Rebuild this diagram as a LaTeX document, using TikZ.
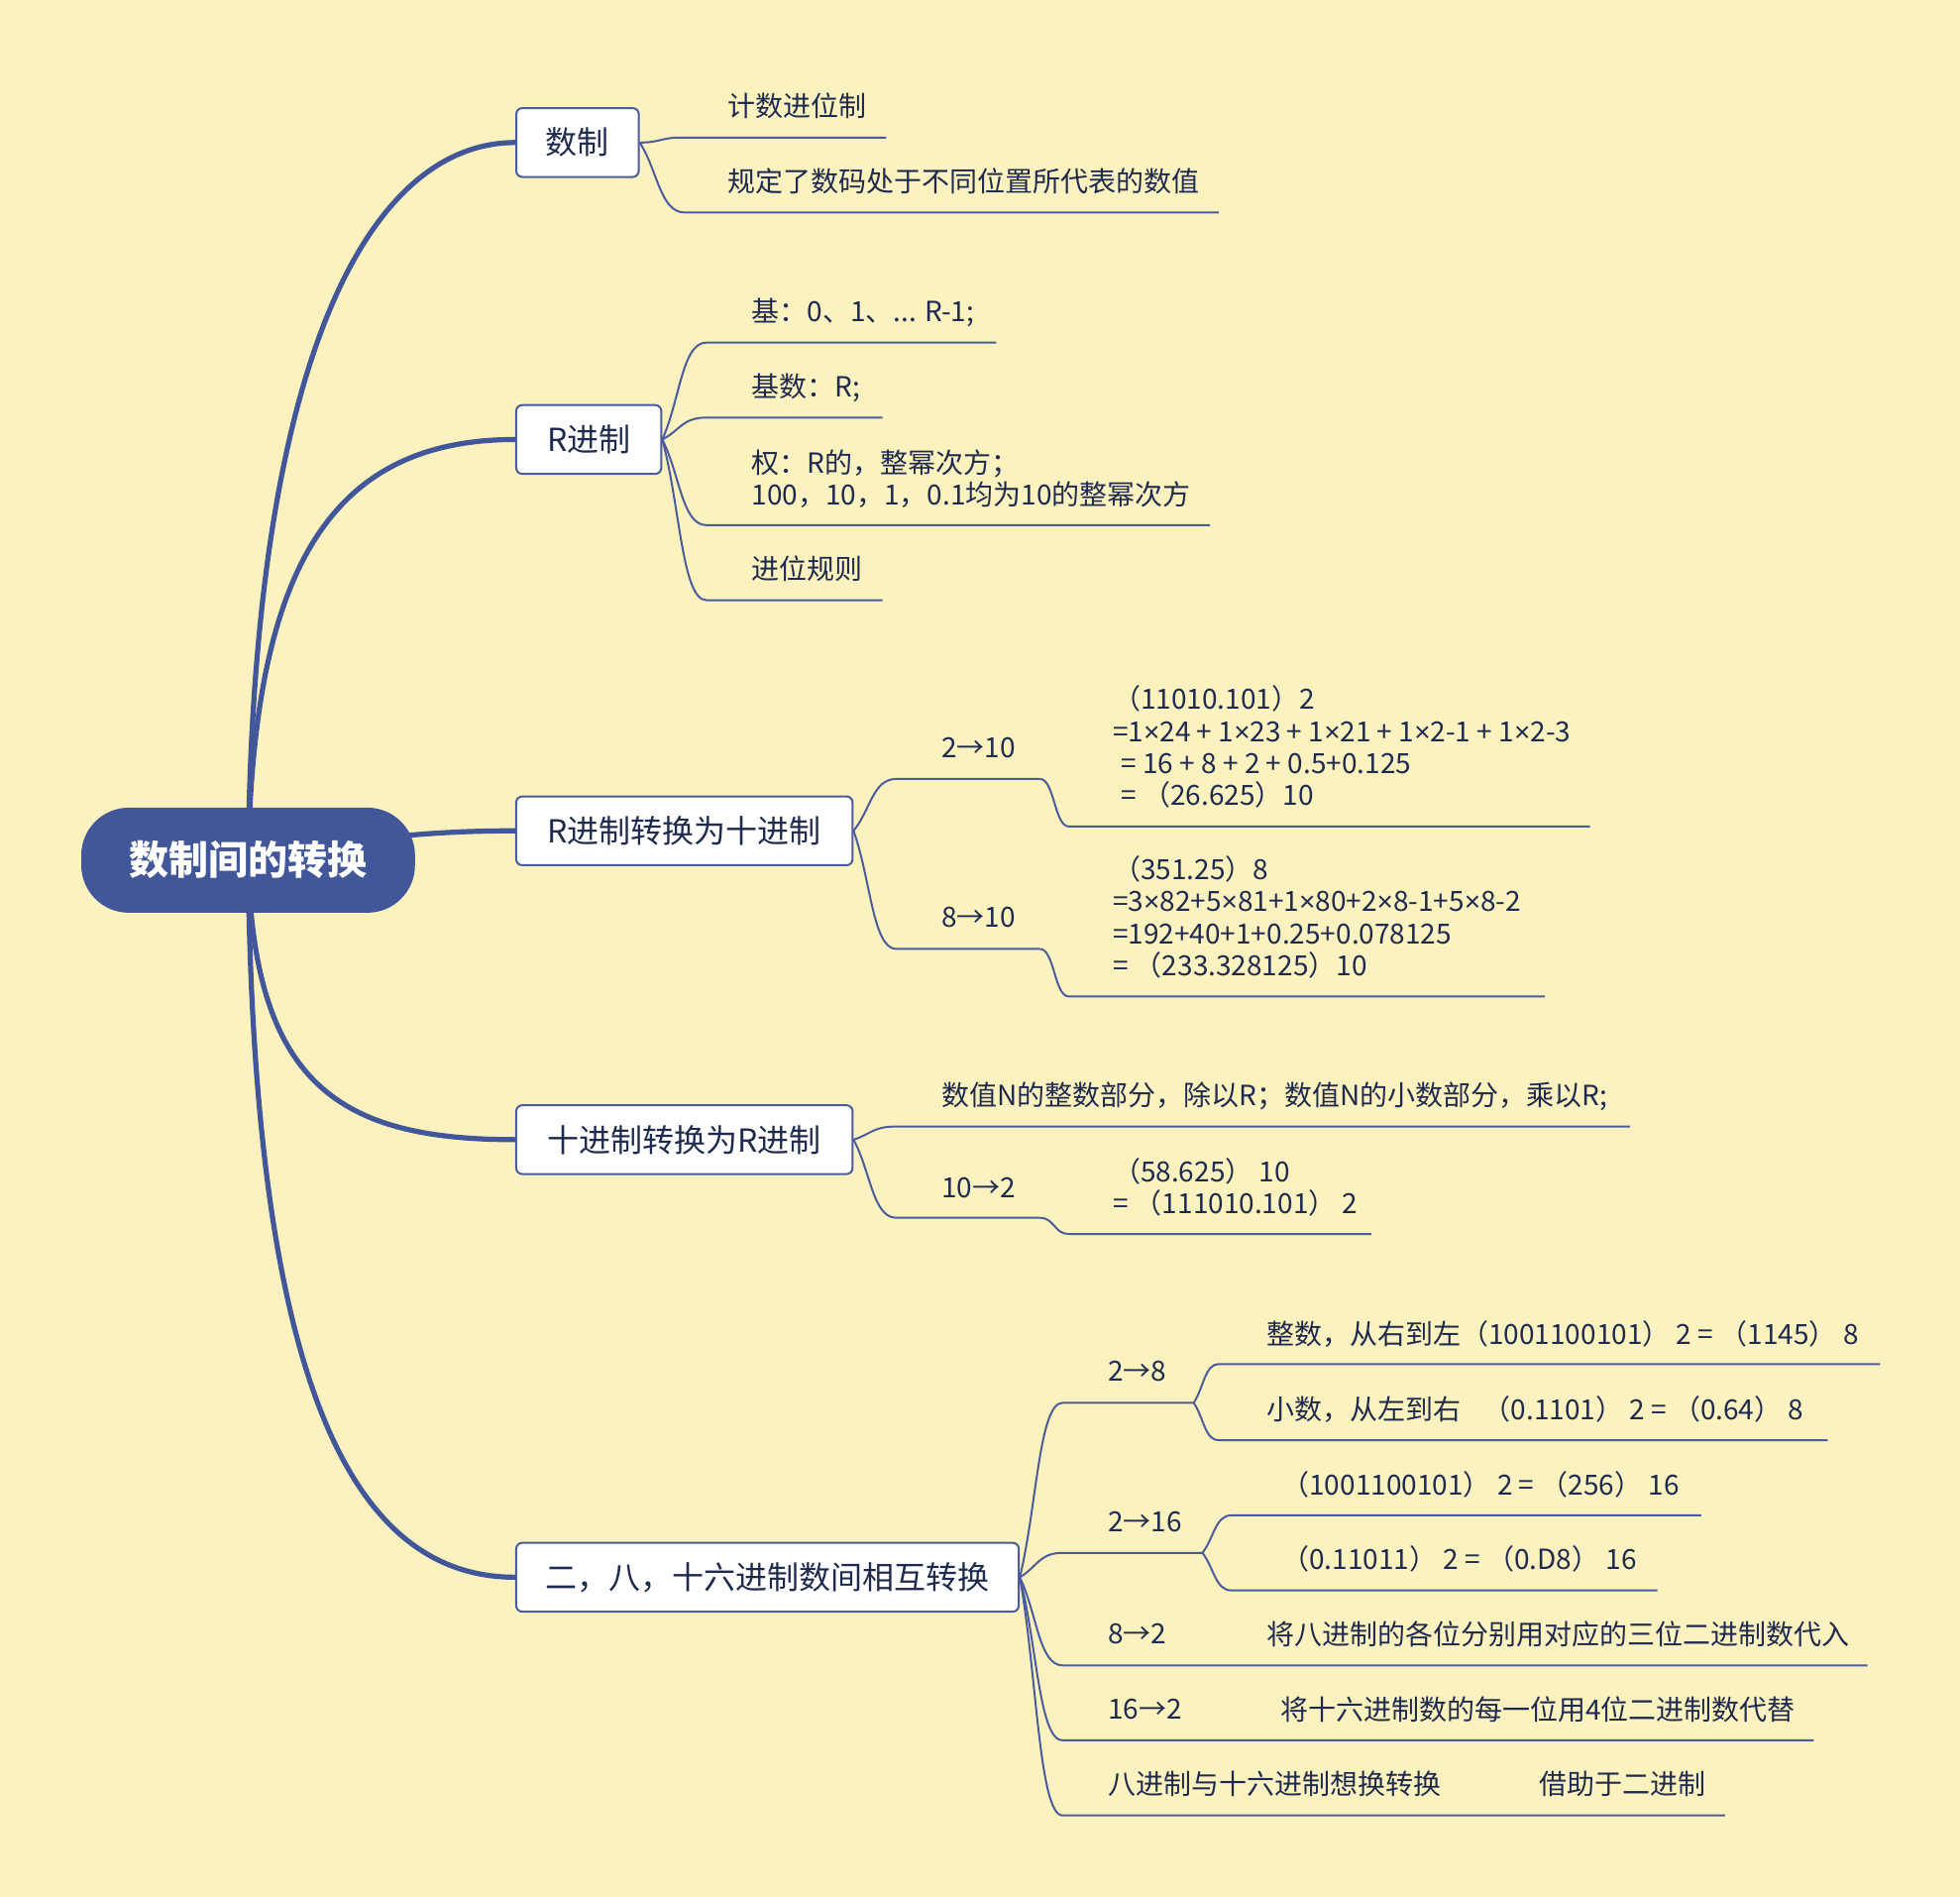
\documentclass[tikz,border=0pt]{standalone}
\usepackage{fontspec}
\newfontfamily\cjk{Noto Sans CJK SC}
\newfontfamily\lat{Liberation Sans}
\newcommand\mul{{\lat ×}}
\usetikzlibrary{calc,backgrounds}
\definecolor{bg}{HTML}{FCF2BF}
\definecolor{mainblue}{HTML}{42579A}
\definecolor{lineblue}{HTML}{4A5C9C}
\definecolor{txt}{HTML}{1E2A4E}
\begin{document}
\begin{tikzpicture}[x=0.63075pt,y=-0.63075pt,
  rootnode/.style={fill=mainblue, rounded corners=24pt, minimum width=168.4pt, minimum height=53pt, inner sep=0pt, text=white, font=\cjk\bfseries\fontsize{20}{24}\selectfont},
  topic/.style={draw=lineblue, line width=1pt, fill=white, rounded corners=3pt, minimum height=34.7pt, inner sep=0pt, text=txt, font=\cjk\fontsize{16}{19}\selectfont},
  lbl/.style={anchor=west, inner sep=0pt, align=left, text=txt, font=\cjk\fontsize{14}{16.2}\selectfont},
  mainline/.style={draw=mainblue, line width=2.6pt, line cap=round},
  thinline/.style={draw=lineblue, line width=1pt},
  fan/.style={to path={.. controls ($(\tikztostart)!0.4!(\tikztotarget)$) and ($(\tikztotarget)!0.55!(\tikztostart |- \tikztotarget)$) .. (\tikztotarget) \tikztonodes}},
  sbr/.style={to path={.. controls ($(\tikztostart)!0.5!(\tikztostart -| \tikztotarget)$) and ($(\tikztotarget)!0.5!(\tikztostart |- \tikztotarget)$) .. (\tikztotarget) \tikztonodes}},
]
% root and topics
\node[rootnode] (root) at (198.5,688) {数制间的转换};
\node[topic, minimum width=61.8pt] (B1) at (462,114) {数制};
\node[topic, minimum width=73.2pt] (B2) at (471,351.5) {R进制};
\node[topic, minimum width=169.7pt] (B3) at (547.5,664.5) {R进制转换为十进制};
\node[topic, minimum width=169.7pt] (B4) at (547.5,911.5) {十进制转换为R进制};
\node[topic, minimum width=253.6pt] (B5) at (614,1261.5) {二，八，十六进制数间相互转换};

\begin{pgfonlayer}{background}
\fill[bg] (0,0) rectangle (1568,1517);
\draw[mainline] (root.center) .. controls +(4,-420) and +(-110,0) .. (B1.west);
\draw[mainline] (root.center) .. controls +(4,-230) and +(-150,0) .. (B2.west);
\draw[mainline] (root.center) .. controls +(100,-22) and +(-40,0) .. (B3.west);
\draw[mainline] (root.center) .. controls +(4,180) and +(-140,0) .. (B4.west);
\draw[mainline] (root.center) .. controls +(4,420) and +(-130,0) .. (B5.west);
\end{pgfonlayer}

% 数制
\node[lbl] (a1) at (582,85) {计数进位制};
\node[lbl] (a2) at (582,145) {规定了数码处于不同位置所代表的数值};
\coordinate (a1s) at (545,110); \coordinate (a1e) at (709,110);
\coordinate (a2s) at (548,170); \coordinate (a2e) at (975,170);
\draw[thinline] (B1.east) to[sbr] (a1s) -- (a1e);
\draw[thinline] (B1.east) to[fan] (a2s) -- (a2e);

% R进制
\node[lbl] (b1) at (601,250) {基：0、1、... R-1;};
\node[lbl] (b2) at (601,310) {基数：R;};
\node[lbl] (b3) at (601,383) {权：R的，整幂次方；\\100，10，1，0.1均为10的整幂次方};
\node[lbl] (b4) at (601,455) {进位规则};
\coordinate (b1s) at (565,274); \coordinate (b1e) at (797,274);
\coordinate (b2s) at (565,334); \coordinate (b2e) at (706,334);
\coordinate (b3s) at (565,420); \coordinate (b3e) at (968,420);
\coordinate (b4s) at (565,480); \coordinate (b4e) at (706,480);
\draw[thinline] (B2.east) to[fan] (b1s) -- (b1e);
\draw[thinline] (B2.east) to[fan] (b2s) -- (b2e);
\draw[thinline] (B2.east) to[fan] (b3s) -- (b3e);
\draw[thinline] (B2.east) to[fan] (b4s) -- (b4e);

% R进制转换为十进制
\node[lbl] (c1) at (753,598) {2→10};
\node[lbl] (c2) at (753,734) {8→10};
\node[lbl] (c1a) at (890,597.5) {（11010.101）2\\=1\mul24 + 1\mul23 + 1\mul21 + 1\mul2-1 + 1\mul2-3\\\hspace*{0.3em}= 16 + 8 + 2 + 0.5+0.125\\\hspace*{0.3em}= （26.625）10};
\node[lbl] (c2a) at (890,733.5) {（351.25）8\\=3\mul82+5\mul81+1\mul80+2\mul8-1+5\mul8-2\\=192+40+1+0.25+0.078125\\= （233.328125）10};
\coordinate (c1s) at (717,623); \coordinate (c1e) at (832,623);
\coordinate (c2s) at (717,759); \coordinate (c2e) at (832,759);
\coordinate (c1as) at (855,661); \coordinate (c1ae) at (1272,661);
\coordinate (c2as) at (855,797); \coordinate (c2ae) at (1236,797);
\draw[thinline] (B3.east) to[fan] (c1s) -- (c1e);
\draw[thinline] (B3.east) to[fan] (c2s) -- (c2e);
\draw[thinline] (c1e) to[sbr] (c1as) -- (c1ae);
\draw[thinline] (c2e) to[sbr] (c2as) -- (c2ae);

% 十进制转换为R进制
\node[lbl] (d1) at (753,877) {数值N的整数部分，除以R；数值N的小数部分，乘以R;};
\node[lbl] (d2) at (753,950) {10→2};
\node[lbl] (d2a) at (890,949.5) {（58.625） 10\\= （111010.101） 2};
\coordinate (d1s) at (717,901); \coordinate (d1e) at (1304,901);
\coordinate (d2s) at (717,974); \coordinate (d2e) at (832,974);
\coordinate (d2as) at (855,987); \coordinate (d2ae) at (1097,987);
\draw[thinline] (B4.east) to[fan] (d1s) -- (d1e);
\draw[thinline] (B4.east) to[fan] (d2s) -- (d2e);
\draw[thinline] (d2e) to[sbr] (d2as) -- (d2ae);

% 二，八，十六进制数间相互转换
\node[lbl] (e1) at (886,1097) {2→8};
\node[lbl] (e1a) at (1013,1067) {整数，从右到左（1001100101） 2 = （1145） 8};
\node[lbl] (e1b) at (1013,1127) {小数，从左到右\hspace*{0.8em}（0.1101） 2 = （0.64） 8};
\node[lbl] (e2) at (886,1217) {2→16};
\node[lbl] (e2a) at (1025,1187) {（1001100101） 2 = （256） 16};
\node[lbl] (e2b) at (1025,1247) {（0.11011） 2 = （0.D8） 16};
\node[lbl] (e3) at (886,1307) {8→2};
\node[lbl] (e3a) at (1013,1307) {将八进制的各位分别用对应的三位二进制数代入};
\node[lbl] (e4) at (886,1367) {16→2};
\node[lbl] (e4a) at (1024,1367) {将十六进制数的每一位用4位二进制数代替};
\node[lbl] (e5) at (886,1427) {八进制与十六进制想换转换};
\node[lbl] (e5a) at (1231,1427) {借助于二进制};
\coordinate (e1s) at (850,1122); \coordinate (e1e) at (955,1122);
\coordinate (e1as) at (975,1091); \coordinate (e1ae) at (1504,1091);
\coordinate (e1bs) at (975,1152); \coordinate (e1be) at (1462,1152);
\coordinate (e2s) at (850,1242); \coordinate (e2e) at (962,1242);
\coordinate (e2as) at (985,1212); \coordinate (e2ae) at (1361,1212);
\coordinate (e2bs) at (985,1272); \coordinate (e2be) at (1326,1272);
\coordinate (e3s) at (850,1332); \coordinate (e3m) at (975,1332); \coordinate (e3e) at (1494,1332);
\coordinate (e4s) at (850,1392); \coordinate (e4m) at (985,1392); \coordinate (e4e) at (1451,1392);
\coordinate (e5s) at (850,1452); \coordinate (e5m) at (1195,1452); \coordinate (e5e) at (1380,1452);
\draw[thinline] (B5.east) to[fan] (e1s) -- (e1e);
\draw[thinline] (e1e) to[fan] (e1as) -- (e1ae);
\draw[thinline] (e1e) to[fan] (e1bs) -- (e1be);
\draw[thinline] (B5.east) to[fan] (e2s) -- (e2e);
\draw[thinline] (e2e) to[fan] (e2as) -- (e2ae);
\draw[thinline] (e2e) to[fan] (e2bs) -- (e2be);
\draw[thinline] (B5.east) to[fan] (e3s) -- (e3m) -- (e3e);
\draw[thinline] (B5.east) to[fan] (e4s) -- (e4m) -- (e4e);
\draw[thinline] (B5.east) to[fan] (e5s) -- (e5m) -- (e5e);
\end{tikzpicture}
\end{document}
